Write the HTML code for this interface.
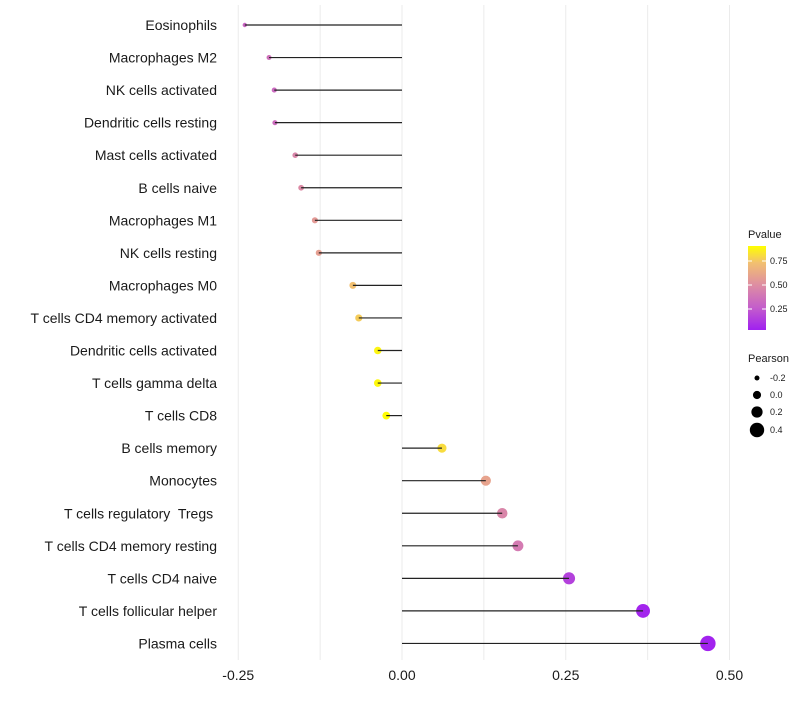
<!DOCTYPE html>
<html><head><meta charset="utf-8"><style>
body{margin:0;background:#fff;font-family:"Liberation Sans",sans-serif}
text{white-space:pre}
</style></head><body>
<svg id="c" width="800" height="700" xmlns="http://www.w3.org/2000/svg">
<defs><linearGradient id="pg" x1="0" y1="1" x2="0" y2="0">
<stop offset="0" stop-color="#a020f0"/><stop offset="0.26" stop-color="#c35ccc"/><stop offset="0.55" stop-color="#df90a0"/><stop offset="0.8" stop-color="#f2c070"/><stop offset="1" stop-color="#ffff00"/></linearGradient></defs>
</svg>
<script>
const categories=["Eosinophils","Macrophages M2","NK cells activated","Dendritic cells resting","Mast cells activated","B cells naive","Macrophages M1","NK cells resting","Macrophages M0","T cells CD4 memory activated","Dendritic cells activated","T cells gamma delta","T cells CD8","B cells memory","Monocytes","T cells regulatory  Tregs ","T cells CD4 memory resting","T cells CD4 naive","T cells follicular helper","Plasma cells"];
const pearson=[-0.24,-0.203,-0.195,-0.194,-0.163,-0.154,-0.133,-0.127,-0.075,-0.066,-0.037,-0.037,-0.024,0.061,0.128,0.153,0.177,0.255,0.368,0.467];
const pvalues=[0.3,0.35,0.32,0.33,0.45,0.47,0.55,0.58,0.75,0.78,0.88,0.89,0.9,0.82,0.6,0.45,0.4,0.15,0.05,0.04];
const xTicks=[-0.25,0,0.25,0.5];
const xTickLabels=["-0.25","0.00","0.25","0.50"];
const ns="http://www.w3.org/2000/svg";
const svg=document.getElementById('c');
const x=v=>402+v*655;
const y=i=>25+i*32.55;
function mk(t,a){const e=document.createElementNS(ns,t);for(const k in a)e.setAttribute(k,a[k]);svg.appendChild(e);return e;}
const stops=[[0.03,[160,32,240]],[0.25,[195,92,204]],[0.5,[223,144,160]],[0.75,[242,192,112]],[0.906,[255,255,0]]];
function col(p){if(p<=stops[0][0])return 'rgb('+stops[0][1]+')';for(let i=1;i<stops.length;i++){if(p<=stops[i][0]){const a=stops[i-1],b=stops[i],t=(p-a[0])/(b[0]-a[0]);return 'rgb('+a[1].map((c,j)=>Math.round(c+(b[1][j]-c)*t)).join(',')+')';}}return 'rgb(255,255,0)';}
const rad=v=>2.2+Math.max(0,v+0.24)*7.8;
for(let g=-0.25;g<=0.5001;g+=0.125){const l=mk('line',{x1:x(g),x2:x(g),y1:5,y2:660,stroke:'#ebebeb','stroke-width':1});

}
categories.forEach((c,i)=>{
const t=mk('text',{x:217,y:y(i)+5,'text-anchor':'end','font-size':14,fill:'#1a1a1a'});t.textContent=c;


const p=mk('circle',{cx:x(pearson[i]),cy:y(i),r:rad(pearson[i]),fill:col(pvalues[i])});


const s=mk('line',{x1:x(0),x2:x(pearson[i]),y1:y(i),y2:y(i),stroke:'#222','stroke-width':1.2});


});
xTicks.forEach((v,i)=>{const t=mk('text',{x:x(v),y:680,'text-anchor':'middle','font-size':14,fill:'#1a1a1a'});t.textContent=xTickLabels[i];

});
const lt=mk('text',{x:748,y:238,'font-size':11,fill:'#1a1a1a'});lt.textContent='Pvalue';


const bar=mk('rect',{x:748,y:246,width:18,height:84,fill:'url(#pg)'});


[[0.75,261],[0.5,285],[0.25,309]].forEach(([v,yy])=>{mk('line',{x1:748,x2:752,y1:yy,y2:yy,stroke:'#fff'});mk('line',{x1:762,x2:766,y1:yy,y2:yy,stroke:'#fff'});
const t=mk('text',{x:770,y:yy+3,'font-size':9,fill:'#1a1a1a'});t.textContent=v.toFixed(2);

});
const pt=mk('text',{x:748,y:362,'font-size':11,fill:'#1a1a1a'});pt.textContent='Pearson';


[[-0.2,378],[0,395],[0.2,412],[0.4,430]].forEach(([v,yy])=>{const c=mk('circle',{cx:757,cy:yy,r:rad(v),fill:'#000'});


const t=mk('text',{x:770,y:yy+3,'font-size':9,fill:'#1a1a1a'});t.textContent=v.toFixed(1);

});
</script>
</body></html>
